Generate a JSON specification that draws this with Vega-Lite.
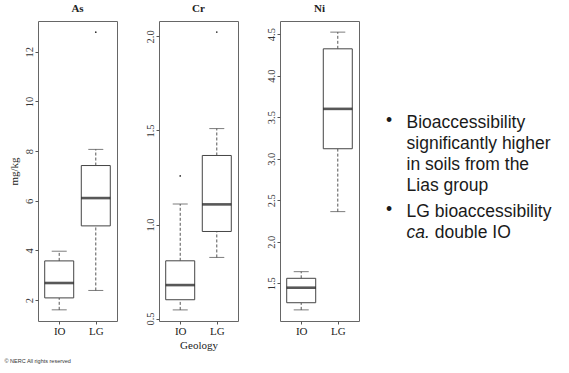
{
  "$schema": "https://vega.github.io/schema/vega-lite/v6.json",
  "padding": {"left": 4, "top": 2, "right": 0, "bottom": 0},
  "background": "white",
  "bounds": "flush",
  "spacing": 42,
  "config": {
    "font": "Liberation Serif",
    "view": {"stroke": "#666", "strokeWidth": 1},
    "axis": {"labelFont": "Liberation Serif", "titleFont": "Liberation Serif", "labelColor": "#333", "titleColor": "#222", "tickColor": "#555", "grid": false, "domain": false, "labelFontSize": 10.5, "titleFontSize": 11, "titleFontWeight": "normal", "tickSize": 3},
    "title": {"font": "Liberation Serif", "fontSize": 11, "fontWeight": "bold", "color": "#222", "offset": 7}
  },
  "title": {"text": "© NERC All rights reserved", "orient": "bottom", "anchor": "start", "frame": "bounds", "font": "Liberation Sans", "fontSize": 5.5, "fontWeight": "normal", "color": "#333", "offset": 8, "dx": -3},
  "datasets": {
    "stats": [
      {"element": "As", "geology": "IO", "lower": 1.61, "q1": 2.09, "median": 2.69, "q3": 3.58, "upper": 3.97},
      {"element": "As", "geology": "LG", "lower": 2.39, "q1": 4.99, "median": 6.11, "q3": 7.42, "upper": 8.07},
      {"element": "Cr", "geology": "IO", "lower": 0.546, "q1": 0.6, "median": 0.678, "q3": 0.807, "upper": 1.109},
      {"element": "Cr", "geology": "LG", "lower": 0.825, "q1": 0.963, "median": 1.107, "q3": 1.367, "upper": 1.51},
      {"element": "Ni", "geology": "IO", "lower": 1.18, "q1": 1.266, "median": 1.447, "q3": 1.56, "upper": 1.64},
      {"element": "Ni", "geology": "LG", "lower": 2.363, "q1": 3.12, "median": 3.6, "q3": 4.323, "upper": 4.524}
    ],
    "outliers": [
      {"element": "As", "geology": "LG", "value": 12.79},
      {"element": "Cr", "geology": "IO", "value": 1.258},
      {"element": "Cr", "geology": "LG", "value": 2.023}
    ],
    "notes": [
      {"item": 1, "text": ["Bioaccessibility", "significantly higher", "in soils from the", "Lias group"]},
      {"item": 2, "text": ["LG bioaccessibility"], "italic": "ca.", "rest": "double IO"}
    ]
  },
  "hconcat": [
    {
      "title": "As",
      "width": 79, "height": 300,
      "data": {"name": "stats"},
      "transform": [{"filter": "datum.element === 'As'"}],
      "encoding": {
        "x": {"field": "geology", "type": "nominal", "scale": {"type": "point", "padding": 0.58, "domain": ["IO", "LG"]}, "axis": {"title": null, "labelAngle": 0, "labelFontSize": 11, "labelPadding": 1, "labelColor": "#222"}}
      },
      "layer": [
        {"mark": {"type": "rule", "strokeDash": [3, 2], "color": "#555"},
         "encoding": {"y": {"field": "lower", "type": "quantitative", "scale": {"domain": [1.16, 13.24], "nice": false, "zero": false}, "axis": {"title": "mg/kg", "values": [2, 4, 6, 8, 10, 12], "labelAngle": -90, "labelAlign": "center", "labelBaseline": "alphabetic", "labelPadding": 3, "titlePadding": 5}}, "y2": {"field": "q1"}}},
        {"mark": {"type": "rule", "strokeDash": [3, 2], "color": "#555"},
         "encoding": {"y": {"field": "q3", "type": "quantitative", "scale": {"domain": [1.16, 13.24], "nice": false, "zero": false}, "axis": {"title": "mg/kg", "values": [2, 4, 6, 8, 10, 12], "labelAngle": -90, "labelAlign": "center", "labelBaseline": "alphabetic", "labelPadding": 3, "titlePadding": 5}}, "y2": {"field": "upper"}}},
        {"mark": {"type": "tick", "size": 15, "thickness": 1, "color": "#444"},
         "encoding": {"y": {"field": "lower", "type": "quantitative", "scale": {"domain": [1.16, 13.24], "nice": false, "zero": false}, "axis": {"title": "mg/kg", "values": [2, 4, 6, 8, 10, 12], "labelAngle": -90, "labelAlign": "center", "labelBaseline": "alphabetic", "labelPadding": 3, "titlePadding": 5}}}},
        {"mark": {"type": "tick", "size": 15, "thickness": 1, "color": "#444"},
         "encoding": {"y": {"field": "upper", "type": "quantitative", "scale": {"domain": [1.16, 13.24], "nice": false, "zero": false}, "axis": {"title": "mg/kg", "values": [2, 4, 6, 8, 10, 12], "labelAngle": -90, "labelAlign": "center", "labelBaseline": "alphabetic", "labelPadding": 3, "titlePadding": 5}}}},
        {"mark": {"type": "bar", "size": 29, "fill": "white", "stroke": "#444", "strokeWidth": 1},
         "encoding": {"y": {"field": "q1", "type": "quantitative", "scale": {"domain": [1.16, 13.24], "nice": false, "zero": false}, "axis": {"title": "mg/kg", "values": [2, 4, 6, 8, 10, 12], "labelAngle": -90, "labelAlign": "center", "labelBaseline": "alphabetic", "labelPadding": 3, "titlePadding": 5}}, "y2": {"field": "q3"}}},
        {"mark": {"type": "tick", "size": 29, "thickness": 2.6, "color": "#111"},
         "encoding": {"y": {"field": "median", "type": "quantitative", "scale": {"domain": [1.16, 13.24], "nice": false, "zero": false}, "axis": {"title": "mg/kg", "values": [2, 4, 6, 8, 10, 12], "labelAngle": -90, "labelAlign": "center", "labelBaseline": "alphabetic", "labelPadding": 3, "titlePadding": 5}}}},
        {"data": {"name": "outliers"},
         "transform": [{"filter": "datum.element === 'As'"}],
         "mark": {"type": "point", "filled": true, "size": 3, "color": "#333", "opacity": 1},
         "encoding": {"y": {"field": "value", "type": "quantitative", "scale": {"domain": [1.16, 13.24], "nice": false, "zero": false}, "axis": {"title": "mg/kg", "values": [2, 4, 6, 8, 10, 12], "labelAngle": -90, "labelAlign": "center", "labelBaseline": "alphabetic", "labelPadding": 3, "titlePadding": 5}}}}
      ]
    },
    {
      "title": "Cr",
      "width": 79, "height": 300,
      "data": {"name": "stats"},
      "transform": [{"filter": "datum.element === 'Cr'"}],
      "encoding": {
        "x": {"field": "geology", "type": "nominal", "scale": {"type": "point", "padding": 0.58, "domain": ["IO", "LG"]}, "axis": {"title": "Geology", "labelAngle": 0, "labelFontSize": 11, "labelPadding": 1, "labelColor": "#222", "titlePadding": 3}}
      },
      "layer": [
        {"mark": {"type": "rule", "strokeDash": [3, 2], "color": "#555"},
         "encoding": {"y": {"field": "lower", "type": "quantitative", "scale": {"domain": [0.487, 2.082], "nice": false, "zero": false}, "axis": {"title": null, "values": [0.5, 1.0, 1.5, 2.0], "format": ".1f", "labelAngle": -90, "labelAlign": "center", "labelBaseline": "alphabetic", "labelPadding": 3}}, "y2": {"field": "q1"}}},
        {"mark": {"type": "rule", "strokeDash": [3, 2], "color": "#555"},
         "encoding": {"y": {"field": "q3", "type": "quantitative", "scale": {"domain": [0.487, 2.082], "nice": false, "zero": false}, "axis": {"title": null, "values": [0.5, 1.0, 1.5, 2.0], "format": ".1f", "labelAngle": -90, "labelAlign": "center", "labelBaseline": "alphabetic", "labelPadding": 3}}, "y2": {"field": "upper"}}},
        {"mark": {"type": "tick", "size": 15, "thickness": 1, "color": "#444"},
         "encoding": {"y": {"field": "lower", "type": "quantitative", "scale": {"domain": [0.487, 2.082], "nice": false, "zero": false}, "axis": {"title": null, "values": [0.5, 1.0, 1.5, 2.0], "format": ".1f", "labelAngle": -90, "labelAlign": "center", "labelBaseline": "alphabetic", "labelPadding": 3}}}},
        {"mark": {"type": "tick", "size": 15, "thickness": 1, "color": "#444"},
         "encoding": {"y": {"field": "upper", "type": "quantitative", "scale": {"domain": [0.487, 2.082], "nice": false, "zero": false}, "axis": {"title": null, "values": [0.5, 1.0, 1.5, 2.0], "format": ".1f", "labelAngle": -90, "labelAlign": "center", "labelBaseline": "alphabetic", "labelPadding": 3}}}},
        {"mark": {"type": "bar", "size": 29, "fill": "white", "stroke": "#444", "strokeWidth": 1},
         "encoding": {"y": {"field": "q1", "type": "quantitative", "scale": {"domain": [0.487, 2.082], "nice": false, "zero": false}, "axis": {"title": null, "values": [0.5, 1.0, 1.5, 2.0], "format": ".1f", "labelAngle": -90, "labelAlign": "center", "labelBaseline": "alphabetic", "labelPadding": 3}}, "y2": {"field": "q3"}}},
        {"mark": {"type": "tick", "size": 29, "thickness": 2.6, "color": "#111"},
         "encoding": {"y": {"field": "median", "type": "quantitative", "scale": {"domain": [0.487, 2.082], "nice": false, "zero": false}, "axis": {"title": null, "values": [0.5, 1.0, 1.5, 2.0], "format": ".1f", "labelAngle": -90, "labelAlign": "center", "labelBaseline": "alphabetic", "labelPadding": 3}}}},
        {"data": {"name": "outliers"},
         "transform": [{"filter": "datum.element === 'Cr'"}],
         "mark": {"type": "point", "filled": true, "size": 3, "color": "#333", "opacity": 1},
         "encoding": {"y": {"field": "value", "type": "quantitative", "scale": {"domain": [0.487, 2.082], "nice": false, "zero": false}, "axis": {"title": null, "values": [0.5, 1.0, 1.5, 2.0], "format": ".1f", "labelAngle": -90, "labelAlign": "center", "labelBaseline": "alphabetic", "labelPadding": 3}}}}
      ]
    },
    {
      "title": "Ni",
      "width": 79, "height": 300,
      "data": {"name": "stats"},
      "transform": [{"filter": "datum.element === 'Ni'"}],
      "encoding": {
        "x": {"field": "geology", "type": "nominal", "scale": {"type": "point", "padding": 0.58, "domain": ["IO", "LG"]}, "axis": {"title": null, "labelAngle": 0, "labelFontSize": 11, "labelPadding": 1, "labelColor": "#222"}}
      },
      "layer": [
        {"mark": {"type": "rule", "strokeDash": [3, 2], "color": "#555"},
         "encoding": {"y": {"field": "lower", "type": "quantitative", "scale": {"domain": [1.046, 4.658], "nice": false, "zero": false}, "axis": {"title": null, "values": [1.5, 2.0, 2.5, 3.0, 3.5, 4.0, 4.5], "format": ".1f", "labelAngle": -90, "labelAlign": "center", "labelBaseline": "alphabetic", "labelPadding": 3}}, "y2": {"field": "q1"}}},
        {"mark": {"type": "rule", "strokeDash": [3, 2], "color": "#555"},
         "encoding": {"y": {"field": "q3", "type": "quantitative", "scale": {"domain": [1.046, 4.658], "nice": false, "zero": false}, "axis": {"title": null, "values": [1.5, 2.0, 2.5, 3.0, 3.5, 4.0, 4.5], "format": ".1f", "labelAngle": -90, "labelAlign": "center", "labelBaseline": "alphabetic", "labelPadding": 3}}, "y2": {"field": "upper"}}},
        {"mark": {"type": "tick", "size": 15, "thickness": 1, "color": "#444"},
         "encoding": {"y": {"field": "lower", "type": "quantitative", "scale": {"domain": [1.046, 4.658], "nice": false, "zero": false}, "axis": {"title": null, "values": [1.5, 2.0, 2.5, 3.0, 3.5, 4.0, 4.5], "format": ".1f", "labelAngle": -90, "labelAlign": "center", "labelBaseline": "alphabetic", "labelPadding": 3}}}},
        {"mark": {"type": "tick", "size": 15, "thickness": 1, "color": "#444"},
         "encoding": {"y": {"field": "upper", "type": "quantitative", "scale": {"domain": [1.046, 4.658], "nice": false, "zero": false}, "axis": {"title": null, "values": [1.5, 2.0, 2.5, 3.0, 3.5, 4.0, 4.5], "format": ".1f", "labelAngle": -90, "labelAlign": "center", "labelBaseline": "alphabetic", "labelPadding": 3}}}},
        {"mark": {"type": "bar", "size": 29, "fill": "white", "stroke": "#444", "strokeWidth": 1},
         "encoding": {"y": {"field": "q1", "type": "quantitative", "scale": {"domain": [1.046, 4.658], "nice": false, "zero": false}, "axis": {"title": null, "values": [1.5, 2.0, 2.5, 3.0, 3.5, 4.0, 4.5], "format": ".1f", "labelAngle": -90, "labelAlign": "center", "labelBaseline": "alphabetic", "labelPadding": 3}}, "y2": {"field": "q3"}}},
        {"mark": {"type": "tick", "size": 29, "thickness": 2.6, "color": "#111"},
         "encoding": {"y": {"field": "median", "type": "quantitative", "scale": {"domain": [1.046, 4.658], "nice": false, "zero": false}, "axis": {"title": null, "values": [1.5, 2.0, 2.5, 3.0, 3.5, 4.0, 4.5], "format": ".1f", "labelAngle": -90, "labelAlign": "center", "labelBaseline": "alphabetic", "labelPadding": 3}}}}
      ]
    },
    {
      "width": 160, "height": 300,
      "view": {"stroke": null},
      "data": {"name": "notes"},
      "encoding": {
        "x": {"datum": 0, "type": "quantitative", "scale": {"domain": [-0.036, 1], "nice": false, "zero": false}, "axis": null},
        "y": {"field": "item", "type": "quantitative", "scale": {"domain": [-0.2056, 3.1652], "reverse": true, "nice": false, "zero": false}, "axis": null}
      },
      "layer": [
        {"mark": {"type": "text", "align": "left", "baseline": "alphabetic", "font": "Liberation Sans", "fontSize": 17.5, "lineHeight": 20.8, "color": "#1a1a1a"},
         "encoding": {"text": {"field": "text"}}},
        {"mark": {"type": "text", "align": "center", "baseline": "alphabetic", "font": "Liberation Sans", "fontSize": 17.5, "dx": -17.4, "dy": -2, "color": "#1a1a1a"},
         "encoding": {"text": {"value": "•"}}},
        {"transform": [{"filter": "isValid(datum.italic)"}],
         "mark": {"type": "text", "align": "left", "baseline": "alphabetic", "font": "Liberation Sans", "fontSize": 17.5, "fontStyle": "italic", "dy": 20.8, "color": "#1a1a1a"},
         "encoding": {"text": {"field": "italic"}}},
        {"transform": [{"filter": "isValid(datum.rest)"}],
         "mark": {"type": "text", "align": "left", "baseline": "alphabetic", "font": "Liberation Sans", "fontSize": 17.5, "dx": 28.3, "dy": 20.8, "color": "#1a1a1a"},
         "encoding": {"text": {"field": "rest"}}}
      ]
    }
  ]
}
